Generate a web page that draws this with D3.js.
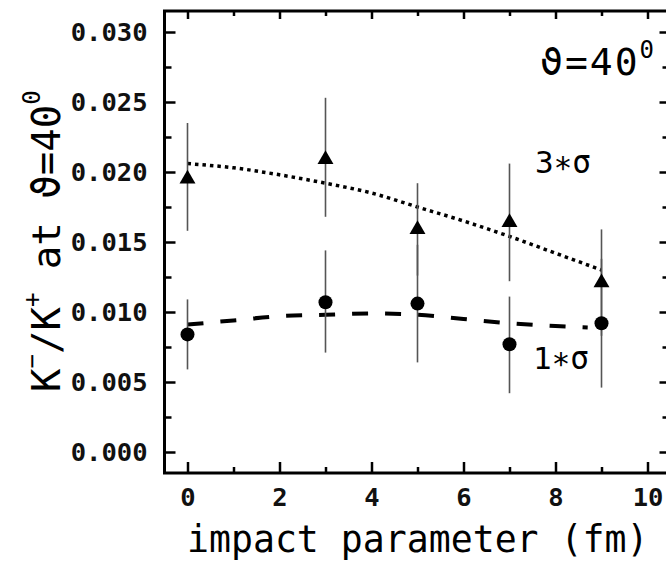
<!DOCTYPE html>
<html><head><meta charset="utf-8">
<script src="https://cdn.jsdelivr.net/npm/d3@7"></script>
<style>
html,body{margin:0;padding:0;background:#fff;}
svg{display:block;}
</style></head>
<body>
<script>
// ---- data ----
const impactParams = [0, 3, 5, 7, 9];
// 3*sigma series (triangles)
const ratio3 = [0.0195, 0.0209, 0.0159, 0.0164, 0.0121];
const ratio3Lo = [0.0158, 0.0168, 0.0126, 0.0122, 0.0083];
const ratio3Hi = [0.0235, 0.0253, 0.0192, 0.0206, 0.0159];
// 1*sigma series (circles)
const ratio1 = [0.0084, 0.0107, 0.0106, 0.0077, 0.0092];
const ratio1Lo = [0.0059, 0.0071, 0.0064, 0.0042, 0.0046];
const ratio1Hi = [0.0109, 0.0144, 0.0148, 0.0111, 0.0138];
// fit curves
const dottedX = [0, 1, 2, 3, 4, 5, 6, 7, 8, 9];
const dottedY = [0.0206, 0.0203, 0.0198, 0.0192, 0.0185, 0.0175, 0.0165, 0.0154, 0.0142, 0.0130];
const dashedX = [0, 1, 2, 3, 4, 5, 6, 7, 8, 8.7];
const dashedY = [0.0091, 0.0094, 0.0097, 0.0098, 0.0099, 0.0098, 0.0095, 0.0092, 0.0090, 0.0089];
// ticks
const xMajorTicks = [0, 2, 4, 6, 8, 10];
const xMinorTicks = [1, 3, 5, 7, 9];
const yMajorTicks = [0.000, 0.005, 0.010, 0.015, 0.020, 0.025, 0.030];
const yMinorTicks = [0.0025, 0.0075, 0.0125, 0.0175, 0.0225, 0.0275];

const W = 666, H = 562;
const svg = d3.select("body").append("svg").attr("width", W).attr("height", H);

const x = d3.scaleLinear().domain([-0.5, 10.5]).range([164.5, 670.5]);
const y = d3.scaleLinear().domain([-0.0015, 0.0315]).range([473, 11]);

const tickFont = "'DejaVu Sans Mono', monospace";

// left axis (ticks inward)
const gL = svg.append("g").attr("transform", `translate(${x.range()[0]},0)`)
  .call(d3.axisLeft(y).tickValues(yMajorTicks).tickSizeInner(-11).tickSizeOuter(0).tickPadding(17)
    .tickFormat(d3.format(".3f")));
gL.append("g").call(d3.axisLeft(y).tickValues(yMinorTicks).tickSizeInner(-7).tickSizeOuter(0).tickFormat(""));
// right axis (ticks inward, no labels)
const gR = svg.append("g").attr("transform", `translate(${x.range()[1]},0)`);
gR.call(d3.axisRight(y).tickValues(yMajorTicks).tickSizeInner(-11).tickSizeOuter(0).tickFormat(""));
gR.append("g").call(d3.axisRight(y).tickValues(yMinorTicks).tickSizeInner(-8).tickSizeOuter(0).tickFormat(""));
// bottom axis
const gB = svg.append("g").attr("transform", `translate(0,${y.range()[0]})`)
  .call(d3.axisBottom(x).tickValues(xMajorTicks).tickSizeInner(-11).tickSizeOuter(0).tickPadding(15)
    .tickFormat(d3.format("d")));
gB.append("g").call(d3.axisBottom(x).tickValues(xMinorTicks).tickSizeInner(-6).tickSizeOuter(0).tickFormat(""));
// top axis
const gT = svg.append("g").attr("transform", `translate(0,${y.range()[1]})`);
gT.call(d3.axisTop(x).tickValues(xMajorTicks).tickSizeInner(-8).tickSizeOuter(0).tickFormat(""));
gT.append("g").call(d3.axisTop(x).tickValues(xMinorTicks).tickSizeInner(-5).tickSizeOuter(0).tickFormat(""));

svg.selectAll(".domain").remove();
svg.selectAll(".tick line").attr("stroke", "#000").attr("stroke-width", 2.5);
svg.selectAll(".tick text").attr("font-family", tickFont).attr("font-size", 25.5)
  .attr("font-weight", "bold").attr("fill", "#111");

// frame
svg.append("rect")
  .attr("x", x.range()[0]).attr("y", y.range()[1])
  .attr("width", x.range()[1] - x.range()[0]).attr("height", y.range()[0] - y.range()[1])
  .attr("fill", "none").attr("stroke", "#000").attr("stroke-width", 3);

// fit curves
const line = d3.line().x(d => x(d[0])).y(d => y(d[1])).curve(d3.curveMonotoneX);
svg.append("path").datum(dottedX.map((v, i) => [v, dottedY[i]]))
  .attr("d", line).attr("fill", "none").attr("stroke", "#000")
  .attr("stroke-width", 3.5).attr("stroke-dasharray", "3.5,4");
svg.append("path").datum(dashedX.map((v, i) => [v, dashedY[i]]))
  .attr("d", line).attr("fill", "none").attr("stroke", "#000")
  .attr("stroke-width", 4).attr("stroke-dasharray", "16,17");

// error bars
function errBars(lo, hi, color) {
  svg.append("g").selectAll("line").data(impactParams).join("line")
    .attr("x1", d => x(d)).attr("x2", d => x(d))
    .attr("y1", (d, i) => y(lo[i])).attr("y2", (d, i) => y(hi[i]))
    .attr("stroke", color).attr("stroke-width", 1.6);
}
errBars(ratio3Lo, ratio3Hi, "#555");
errBars(ratio1Lo, ratio1Hi, "#555");

// markers
const tri = d3.symbol().type(d3.symbolTriangle).size(110);
svg.append("g").selectAll("path").data(impactParams).join("path")
  .attr("d", tri)
  .attr("transform", (d, i) => `translate(${x(d)},${y(ratio3[i])})`)
  .attr("fill", "#000");
svg.append("g").selectAll("circle").data(impactParams).join("circle")
  .attr("cx", d => x(d)).attr("cy", (d, i) => y(ratio1[i])).attr("r", 7)
  .attr("fill", "#000");

// annotations
const labFont = "'DejaVu Sans Mono', monospace";
const t1 = svg.append("text").attr("x", 540).attr("y", 75)
  .attr("font-family", labFont).attr("font-size", 38).attr("letter-spacing", 2).attr("fill", "#000");
t1.append("tspan").text("ϑ=40");
t1.append("tspan").attr("font-size", 24).attr("dy", -17).text("0");

svg.append("text").attr("x", 535).attr("y", 173)
  .attr("font-family", labFont).attr("font-size", 31).attr("fill", "#000").text("3∗σ");
svg.append("text").attr("x", 533).attr("y", 369)
  .attr("font-family", labFont).attr("font-size", 31).attr("fill", "#000").text("1∗σ");

// x-axis title
svg.append("text").attr("x", 187).attr("y", 552)
  .attr("font-family", labFont).attr("font-size", 36.5).attr("fill", "#000")
  .text("impact parameter (fm)");

// y-axis title (rotated)
const yl = svg.append("text")
  .attr("transform", "translate(60,392) rotate(-90)")
  .attr("font-family", labFont).attr("font-size", 39).attr("fill", "#000");
yl.append("tspan").text("K");
yl.append("tspan").attr("font-size", 24).attr("dy", -20).text("−");
yl.append("tspan").attr("dy", 20).text("/K");
yl.append("tspan").attr("font-size", 24).attr("dy", -20).text("+");
yl.append("tspan").attr("dy", 20).text(" at ϑ=40");
yl.append("tspan").attr("font-size", 24).attr("dy", -20).text("0");
</script>
</body></html>
